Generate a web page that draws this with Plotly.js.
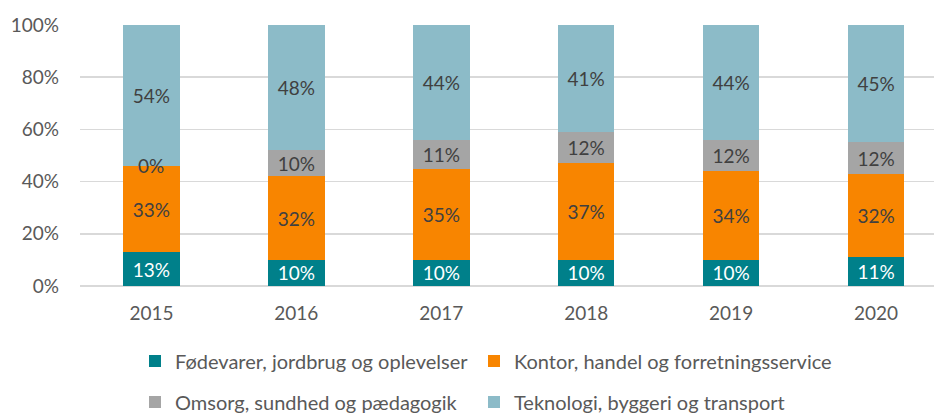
<!DOCTYPE html>
<html>
<head>
<meta charset="utf-8">
<script src="https://cdn.plot.ly/plotly-3.0.1.min.js"></script>
<style>html,body{margin:0;padding:0;background:#fff;}#chart{width:934px;height:414px;}</style>
</head>
<body>
<div id="chart"></div>
<script>
const years = ['2015', '2016', '2017', '2018', '2019', '2020'];
const foedevarer = [13, 10, 10, 10, 10, 11];
const kontor = [33, 32, 35, 37, 34, 32];
const omsorg = [0, 10, 11, 12, 12, 12];
const teknologi = [54, 48, 44, 41, 44, 45];
const seriesNames = [
  'Fødevarer, jordbrug og oplevelser',
  'Kontor, handel og forretningsservice',
  'Omsorg, sundhed og pædagogik',
  'Teknologi, byggeri og transport'
];
const yTicks = [0, 20, 40, 60, 80, 100];

const FONT = 'Lato, "Open Sans", sans-serif';
const FS = 19;
const colors = ['#00808A', '#F88500', '#A5A5A5', '#8CBBC8'];
const txtColors = ['#FFFFFF', '#404040', '#404040', '#404040'];
const seriesVals = [foedevarer, kontor, omsorg, teknologi];
const legendIds = ['legend', 'legend2', 'legend3', 'legend4'];

const traces = seriesVals.map((vals, i) => ({
  type: 'bar',
  name: seriesNames[i],
  x: years,
  y: vals,
  width: 0.39,
  marker: {color: colors[i]},
  text: vals.map(v => v === 0 ? '' : v + '%'),
  textposition: 'inside',
  insidetextanchor: 'middle',
  constraintext: 'none',
  textangle: 0,
  insidetextfont: {family: FONT, size: FS, color: txtColors[i]},
  cliponaxis: false,
  hoverinfo: 'skip',
  legend: legendIds[i]
}));

// labels for zero-height segments (drawn on top of the stack)
const annotations = [];
seriesVals.forEach((vals, i) => {
  vals.forEach((v, j) => {
    if (v === 0) {
      let base = 0;
      for (let k = 0; k < i; k++) base += seriesVals[k][j];
      annotations.push({
        x: j, y: base, xref: 'x', yref: 'y',
        text: v + '%', showarrow: false,
        font: {family: FONT, size: FS, color: txtColors[i]}
      });
    }
  });
});

const legendPos = [[135, 361], [474, 361], [135, 402], [474, 402]];
const layout = {
  width: 934,
  height: 414,
  margin: {l: 80, r: 0, t: 25, b: 128},
  barmode: 'stack',
  paper_bgcolor: '#FFFFFF',
  plot_bgcolor: '#FFFFFF',
  font: {family: FONT, size: FS, color: '#595959'},
  xaxis: {
    type: 'category',
    range: [-0.493, 5.40],
    showgrid: false,
    zeroline: false,
    showline: false,
    ticks: '',
    tickfont: {family: FONT, size: FS, color: '#595959'},
    ticklabelstandoff: 14,
    automargin: false,
    fixedrange: true
  },
  yaxis: {
    range: [0, 100],
    tickvals: yTicks,
    ticktext: yTicks.map(v => v + '%'),
    showgrid: true,
    gridcolor: '#D9D9D9',
    gridwidth: 1.5,
    zeroline: true,
    zerolinecolor: '#D9D9D9',
    zerolinewidth: 1.5,
    showline: false,
    ticks: '',
    tickfont: {family: FONT, size: FS, color: '#595959'},
    ticklabelstandoff: 20,
    automargin: false,
    fixedrange: true
  },
  annotations: annotations,
  showlegend: true
};
legendIds.forEach((id, i) => {
  layout[id] = {
    orientation: 'h',
    xref: 'container', yref: 'container',
    x: legendPos[i][0] / 934, xanchor: 'left',
    y: 1 - legendPos[i][1] / 414, yanchor: 'middle',
    font: {family: FONT, size: 20, color: '#595959'},
    itemclick: false, itemdoubleclick: false
  };
});

Plotly.newPlot('chart', traces, layout, {displayModeBar: false, staticPlot: true});
</script>
</body>
</html>
